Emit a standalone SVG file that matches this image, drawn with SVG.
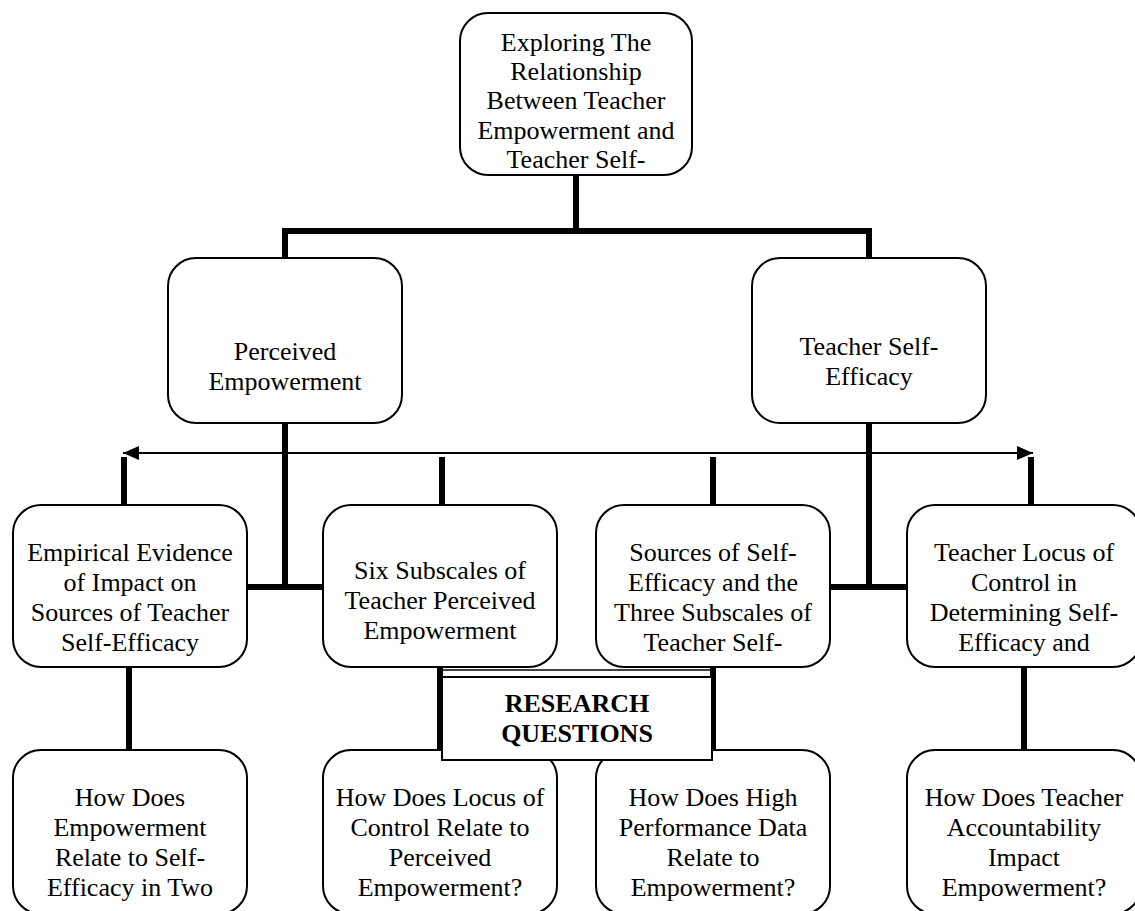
<svg xmlns="http://www.w3.org/2000/svg" width="1135" height="911" viewBox="0 0 1135 911">
<style>
.box{fill:#fff;stroke:#000;stroke-width:2}
.t{font-family:"Liberation Serif","Times New Roman",serif;font-size:26px;fill:#000;text-anchor:middle}
.b{font-weight:bold}
.thick{fill:none;stroke:#000;stroke-width:6}
.thin{fill:none;stroke:#000;stroke-width:2}
</style>
<defs>
<marker id="ah" markerUnits="userSpaceOnUse" markerWidth="18" markerHeight="16" refX="16" refY="8" orient="auto-start-reverse">
<path d="M0,1 L16,8 L0,15 Z" fill="#000"/>
</marker>
<clipPath id="topclip"><rect x="460" y="13" width="232" height="157"/></clipPath>
</defs>
<rect width="1135" height="911" fill="#fff"/>
<g id="connectors">
<path class="thick" d="M576,175 V231"/>
<path class="thick" d="M285,258 V231 H869 V258"/>
<path class="thick" d="M285,423 V590"/>
<path class="thick" d="M247,587 H323"/>
<path class="thick" d="M869,423 V590"/>
<path class="thick" d="M830,587 H907"/>
<path class="thin" d="M123,453 H1033" marker-start="url(#ah)" marker-end="url(#ah)"/>
<path class="thick" d="M124,457 V505 M442,457 V505 M713,457 V505 M1031,457 V505"/>
<path class="thick" d="M129,667 V750 M440,667 V750 M713,667 V750 M1024,667 V750"/>
<path d="M440,670 H713" fill="none" stroke="#000" stroke-width="1.5"/>
</g>
<g id="n-top">
<rect class="box" x="460" y="13" width="232" height="162" rx="28"/>
<g clip-path="url(#topclip)">
<text class="t" x="576" y="51">Exploring The</text>
<text class="t" x="576" y="80">Relationship</text>
<text class="t" x="576" y="109">Between Teacher</text>
<text class="t" x="576" y="139">Empowerment and</text>
<text class="t" x="576" y="168">Teacher Self-</text>
</g>
</g>
<g id="n-perceived">
<rect class="box" x="168" y="258" width="234" height="165" rx="28"/>
<text class="t" x="285" y="360">Perceived</text>
<text class="t" x="285" y="390">Empowerment</text>
</g>
<g id="n-tse">
<rect class="box" x="752" y="258" width="234" height="165" rx="28"/>
<text class="t" x="869" y="355">Teacher Self-</text>
<text class="t" x="869" y="385">Efficacy</text>
</g>
<g id="n-empirical">
<rect class="box" x="13" y="505" width="234" height="162" rx="28"/>
<text class="t" x="130" y="561">Empirical Evidence</text>
<text class="t" x="130" y="591">of Impact on</text>
<text class="t" x="130" y="621">Sources of Teacher</text>
<text class="t" x="130" y="651">Self-Efficacy</text>
</g>
<g id="n-six">
<rect class="box" x="323" y="505" width="234" height="162" rx="28"/>
<text class="t" x="440" y="579">Six Subscales of</text>
<text class="t" x="440" y="609">Teacher Perceived</text>
<text class="t" x="440" y="639">Empowerment</text>
</g>
<g id="n-sources">
<rect class="box" x="596" y="505" width="234" height="162" rx="28"/>
<text class="t" x="713" y="561">Sources of Self-</text>
<text class="t" x="713" y="591">Efficacy and the</text>
<text class="t" x="713" y="621">Three Subscales of</text>
<text class="t" x="713" y="651">Teacher Self-</text>
</g>
<g id="n-locus">
<rect class="box" x="907" y="505" width="234" height="162" rx="28"/>
<text class="t" x="1024" y="561">Teacher Locus of</text>
<text class="t" x="1024" y="591">Control in</text>
<text class="t" x="1024" y="621">Determining Self-</text>
<text class="t" x="1024" y="651">Efficacy and</text>
</g>
<g id="n-q1">
<rect class="box" x="13" y="750" width="234" height="164" rx="28"/>
<text class="t" x="130" y="806">How Does</text>
<text class="t" x="130" y="836">Empowerment</text>
<text class="t" x="130" y="866">Relate to Self-</text>
<text class="t" x="130" y="896">Efficacy in Two</text>
</g>
<g id="n-q2">
<rect class="box" x="323" y="750" width="234" height="164" rx="28"/>
<text class="t" x="440" y="806">How Does Locus of</text>
<text class="t" x="440" y="836">Control Relate to</text>
<text class="t" x="440" y="866">Perceived</text>
<text class="t" x="440" y="896">Empowerment?</text>
</g>
<g id="n-q3">
<rect class="box" x="596" y="750" width="234" height="164" rx="28"/>
<text class="t" x="713" y="806">How Does High</text>
<text class="t" x="713" y="836">Performance Data</text>
<text class="t" x="713" y="866">Relate to</text>
<text class="t" x="713" y="896">Empowerment?</text>
</g>
<g id="n-q4">
<rect class="box" x="907" y="750" width="234" height="164" rx="28"/>
<text class="t" x="1024" y="806">How Does Teacher</text>
<text class="t" x="1024" y="836">Accountability</text>
<text class="t" x="1024" y="866">Impact</text>
<text class="t" x="1024" y="896">Empowerment?</text>
</g>
<g id="n-rq">
<rect x="442" y="677" width="270" height="83" fill="#fff" stroke="#000" stroke-width="2"/>
<text class="t b" x="577" y="712">RESEARCH</text>
<text class="t b" x="577" y="742">QUESTIONS</text>
</g>
</svg>
